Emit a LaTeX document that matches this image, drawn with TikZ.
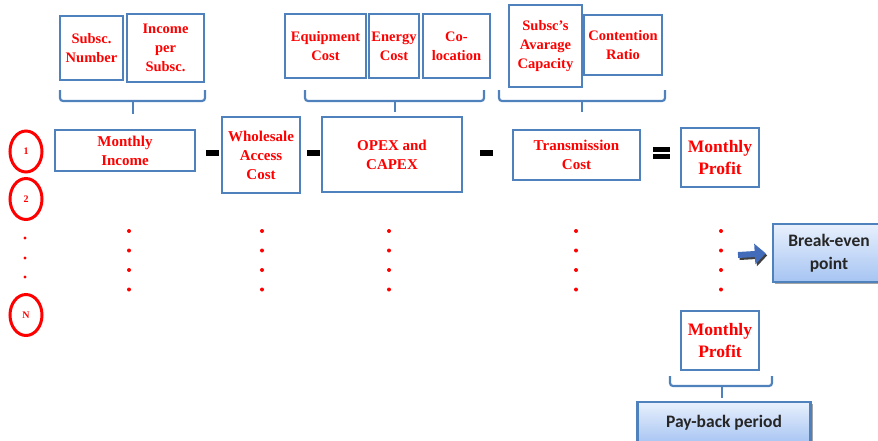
\documentclass[tikz,border=0pt]{standalone}
\usepackage{fontspec}
\setmainfont{Liberation Serif}
\newfontfamily\calibri{Carlito}
\usetikzlibrary{arrows.meta,shadows,shapes.geometric}
\definecolor{azulborde}{RGB}{79,129,189}
\definecolor{rojo}{RGB}{255,0,0}
\definecolor{azulclaro}{RGB}{232,240,253}
\definecolor{azulmedio}{RGB}{166,196,242}
\definecolor{azulflecha}{RGB}{66,108,186}

\begin{document}
\begin{tikzpicture}[x=1pt,y=-1pt,
    caja/.style={draw=azulborde,line width=2.5pt,fill=white,text=rojo,align=center,inner sep=1pt,
        font=\fontsize{15}{19}\selectfont\bfseries},
    cajasup/.style={caja,font=\fontsize{14.5}{19}\selectfont\bfseries},
    cajagan/.style={caja,font=\fontsize{17.5}{22}\selectfont\bfseries},
    resultado/.style={draw=azulborde,line width=2.5pt,top color=azulclaro,bottom color=azulmedio,
        drop shadow={shadow xshift=2pt,shadow yshift=-2pt,fill=black!70},text=black!85,align=center,
        font=\calibri\fontsize{17.5}{23}\selectfont\bfseries},
    circulo/.style={ellipse,draw=rojo,line width=3pt,text=rojo,minimum width=32,minimum height=41,
        inner sep=0pt,font=\fontsize{10}{12}\selectfont\bfseries},
    llave/.style={draw=azulborde,line width=2.2pt,rounded corners=3pt},
    menos/.style={rectangle,fill=black,inner sep=0pt,minimum width=13,minimum height=6},
    punto/.style={fill=rojo},
    flechaazul/.style={line width=6pt,-{Triangle[length=11pt,width=20pt]}}]
    \useasboundingbox (0,0) rectangle (878,440);

    % Cajas superiores
    \node[cajasup,minimum width=63,minimum height=64] (num) at (91.5,48) {Subsc.\\Number};
    \node[cajasup,minimum width=77,minimum height=68] (ingsub) at (165.5,48) {Income\\per\\Subsc.};
    \node[cajasup,minimum width=81,minimum height=64] (equipo) at (325.5,46) {Equipment\\Cost};
    \node[cajasup,minimum width=50,minimum height=64] (energia) at (394,46) {Energy\\Cost};
    \node[cajasup,minimum width=67,minimum height=64] (coloc) at (456.5,46) {Co-\\location};
    \node[cajasup,minimum width=73,minimum height=82] (capac) at (545.5,46) {Subsc’s\\Avarage\\Capacity};
    \node[cajasup,minimum width=78,minimum height=60] (contencion) at (623,45) {Contention\\Ratio};

    % Llaves
    \draw[llave] (60,90) -- (60,101) -- (205,101) -- (205,90);
    \draw[llave] (133,101) -- (133,114);
    \draw[llave] (305,90) -- (305,101) -- (484,101) -- (484,90);
    \draw[llave] (395,101) -- (395,112);
    \draw[llave] (499,90) -- (499,101) -- (665,101) -- (665,90);
    \draw[llave] (582,101) -- (582,112);

    % Fila 1
    \node[circulo] (c1) at (26,151.5) {1};
    \node[caja,minimum width=140,minimum height=41] (ingreso) at (125,150.5) {Monthly\\Income};
    \node[menos] (m1) at (212,152.5) {};
    \node[caja,minimum width=78,minimum height=76] (mayorista) at (261,155) {Wholesale\\Access\\Cost};
    \node[menos] (m2) at (313,152.5) {};
    \node[caja,minimum width=140,minimum height=75] (opex) at (392,154.5) {OPEX and\\CAPEX};
    \node[menos] (m3) at (486.5,152.5) {};
    \node[caja,minimum width=127,minimum height=50] (transm) at (576.5,155) {Transmission\\Cost};
    \node[menos,minimum width=17,minimum height=4.5] (eq1) at (661,149.5) {};
    \node[menos,minimum width=17,minimum height=4.5] (eq2) at (661,156.5) {};
    \node[cajagan,minimum width=78,minimum height=59] (ganancia) at (720,157.5) {Monthly\\Profit};

    % Filas 2 ... N
    \node[circulo] (c2) at (26,199) {2};
    \node[circulo] (cN) at (26,315) {N};
    \foreach \y in {238,258,277}
        \fill[punto] (25,\y) circle (1.7);
    \foreach \x in {129,262,389,576,721}
        \foreach \y in {231,250.5,270,289.5}
            \fill[punto] (\x,\y) circle (2);

    % Resultados
    \node[resultado,minimum width=112,minimum height=58] (be) at (829,253) {Break-even\\point};
    \coordinate (flecha) at (738,255);
    \draw[flechaazul,black!75,transform canvas={shift={(1.5pt,-2pt)}},shorten >=6pt] (flecha) -- (be.west);
    \draw[flechaazul,azulflecha,shorten >=6pt] (flecha) -- (be.west);
    \node[cajagan,minimum width=78,minimum height=59] (ganancia2) at (720,340.5) {Monthly\\Profit};
    \draw[llave] (670,376) -- (670,386) -- (772,386) -- (772,376);
    \draw[llave] (722,386) -- (722,398);
    \node[resultado,minimum width=173,minimum height=42] (payback) at (724,423) {Pay-back period};
\end{tikzpicture}
\end{document}
